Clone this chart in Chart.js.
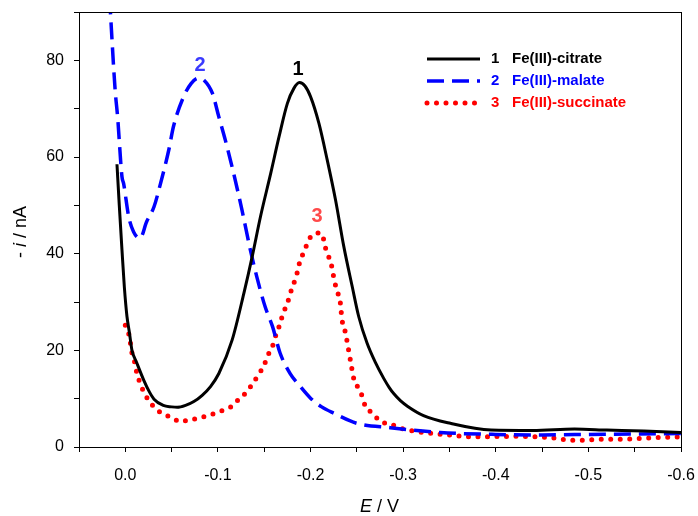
<!DOCTYPE html>
<html>
<head>
<meta charset="utf-8">
<script src="https://cdn.jsdelivr.net/npm/chart.js@4/dist/chart.umd.min.js"></script>
<style>
  html, body { margin: 0; padding: 0; background: #fff; }
  canvas { display: block; }
</style>
</head>
<body>
<canvas id="c" width="698" height="516"></canvas>
<script>
// E / V values (x) and -i / nA values (y)
var citrateE = [0.009, 0.0065, 0.0036, 0.001, -0.0018, -0.0045, -0.0072, -0.012, -0.02, -0.026, -0.031, -0.041, -0.05, -0.056, -0.065, -0.074, -0.083, -0.092, -0.101, -0.1153, -0.128, -0.137, -0.146, -0.157, -0.166, -0.175, -0.182, -0.188, -0.194, -0.2, -0.209, -0.218, -0.227, -0.236, -0.245, -0.252, -0.261, -0.27, -0.279, -0.285, -0.29, -0.297, -0.305, -0.322, -0.351, -0.395, -0.44, -0.485, -0.52, -0.56, -0.6]
var citrateI = [58.5, 50, 40.8, 33, 27, 23.6, 20, 17.6, 13.8, 11.4, 9.9, 8.6, 8.3, 8.2, 8.6, 9.4, 10.7, 12.5, 15.2, 22.1, 31.8, 39.4, 47.7, 56.6, 64.2, 71.1, 74.2, 75.4, 74.7, 72.5, 67, 59.4, 51.1, 41.4, 33.2, 27, 21.5, 17.5, 14.2, 12.3, 11, 9.6, 8.4, 6.5, 4.9, 3.5, 3.4, 3.7, 3.5, 3.3, 3.0]

var malateE = [0.017, 0.011, 0.0083, 0.0036, 0.0018, -0.0036, -0.009, -0.016, -0.023, -0.031, -0.038, -0.047, -0.052, -0.063, -0.071, -0.079, -0.085, -0.094, -0.101, -0.108, -0.117, -0.126, -0.135, -0.142, -0.151, -0.159, -0.167, -0.178, -0.189, -0.2, -0.212, -0.225, -0.25, -0.286, -0.34, -0.4, -0.45, -0.5, -0.55, -0.6]
var malateI = [93, 73.9, 68.3, 55.9, 54.5, 47.7, 44.5, 43.2, 46.6, 49.7, 54.5, 61.5, 66.3, 72.5, 75.2, 76.3, 75.9, 73.2, 68.3, 63.5, 56.6, 49, 40.8, 35.2, 29, 24.9, 19.5, 15.2, 12.5, 10.1, 8.3, 7, 4.9, 4.0, 3.0, 2.6, 2.5, 2.6, 2.7, 2.8]

var succinateE = [0, -0.0036, -0.0054, -0.007, -0.01, -0.012, -0.015, -0.019, -0.025, -0.032, -0.041, -0.05, -0.06, -0.0695, -0.078, -0.087, -0.097, -0.104, -0.114, -0.1225, -0.131, -0.138, -0.144, -0.15, -0.154, -0.159, -0.162, -0.166, -0.169, -0.173, -0.177, -0.18, -0.184, -0.189, -0.194, -0.197, -0.204, -0.209, -0.213, -0.215, -0.218, -0.222, -0.226, -0.229, -0.232, -0.234, -0.237, -0.239, -0.243, -0.247, -0.252, -0.256, -0.259, -0.267, -0.276, -0.286, -0.295, -0.315, -0.348, -0.377, -0.42, -0.46, -0.481, -0.499, -0.51, -0.539, -0.557, -0.6]
var succinateI = [25.2, 23.5, 21.6, 19.6, 17.6, 15.7, 13.7, 11.8, 9.7, 8.1, 6.8, 6.1, 5.2, 5.7, 5.9, 6.4, 7, 7.5, 8.3, 9.9, 11.4, 13.3, 15, 17, 19, 20.9, 22.8, 24.9, 26.8, 28.9, 30.9, 33, 34.9, 38.7, 40.8, 42.5, 44.1, 44.3, 43.9, 42, 40.1, 38.1, 34.2, 32.1, 30.1, 26.3, 24.2, 22.3, 18, 13.9, 12.1, 10.4, 8.5, 7, 5.2, 4.8, 4, 3.2, 2.5, 2.1, 2.2, 1.9, 1.4, 1.4, 1.6, 1.6, 1.8, 2.1]

var seriesNames = ["Fe(III)-citrate", "Fe(III)-malate", "Fe(III)-succinate"]
var seriesNums = ["1", "2", "3"]

var FONT = '"Liberation Sans", Arial, sans-serif'

function pts(xs, ys) {
  return xs.map(function(x, i) { return {x: x, y: ys[i]} })
}

// titles, legend, peak numbers and the box round the plot
var decor = {
  id: 'decor',
  afterDraw: function(chart) {
    var ctx = chart.ctx
    var a = chart.chartArea
    ctx.save()
    ctx.strokeStyle = '#000'
    ctx.lineWidth = 1
    ctx.strokeRect(a.left + 0.5, a.top + 0.5, a.right - a.left, a.bottom - a.top)

    // x title: E / V
    ctx.fillStyle = '#000'
    ctx.textBaseline = 'middle'
    ctx.textAlign = 'left'
    var x0 = 360, y0 = 507
    ctx.font = 'italic 18px ' + FONT
    ctx.fillText('E', x0, y0)
    var w = ctx.measureText('E').width
    ctx.font = '18px ' + FONT
    ctx.fillText(' / V', x0 + w, y0)

    // y title: - i / nA
    ctx.save()
    ctx.translate(21, 258)
    ctx.rotate(-Math.PI / 2)
    ctx.font = '18px ' + FONT
    ctx.fillText('- ', 0, 0)
    var w1 = ctx.measureText('- ').width
    ctx.font = 'italic 18px ' + FONT
    ctx.fillText('i', w1, 0)
    var w2 = ctx.measureText('i').width
    ctx.font = '18px ' + FONT
    ctx.fillText(' / nA', w1 + w2, 0)
    ctx.restore()

    // legend
    var rows = [59, 81, 103]
    chart.data.datasets.forEach(function(ds, i) {
      var y = rows[i]
      ctx.save()
      ctx.strokeStyle = ds.borderColor
      ctx.lineWidth = ds.borderWidth
      ctx.lineCap = ds.borderCapStyle || 'butt'
      ctx.setLineDash(ds.borderDash || [])
      ctx.beginPath()
      ctx.moveTo(427, y)
      ctx.lineTo(480, y)
      ctx.stroke()
      ctx.restore()
      ctx.fillStyle = ds.borderColor
      ctx.font = 'bold 15px ' + FONT
      ctx.fillText(seriesNums[i], 491, y)
      ctx.fillText(seriesNames[i], 512, y)
    })

    // peak numbers
    ctx.textAlign = 'center'
    ctx.font = 'bold 20px ' + FONT
    ctx.fillStyle = '#000'
    ctx.fillText('1', 298, 69)
    ctx.fillStyle = '#3a3aff'
    ctx.fillText('2', 200, 65)
    ctx.fillStyle = '#ff4a4a'
    ctx.fillText('3', 317, 216)
    ctx.restore()
  }
}

new Chart(document.getElementById('c'), {
  type: 'line',
  data: {
    datasets: [
      {
        data: pts(citrateE, citrateI),
        borderColor: '#000000',
        borderWidth: 3,
        pointRadius: 0,
        cubicInterpolationMode: 'monotone'
      },
      {
        data: pts(malateE, malateI),
        borderColor: '#0000ff',
        borderWidth: 3.5,
        borderDash: [17, 8],
        pointRadius: 0,
        cubicInterpolationMode: 'monotone'
      },
      {
        data: pts(succinateE, succinateI),
        borderColor: '#ff0000',
        borderWidth: 5,
        borderDash: [0, 9.5],
        borderCapStyle: 'round',
        pointRadius: 0,
        cubicInterpolationMode: 'monotone'
      }
    ]
  },
  options: {
    responsive: false,
    animation: false,
    devicePixelRatio: 1,
    layout: { padding: { top: 12, right: 17, left: 0, bottom: 0 } },
    plugins: { legend: { display: false }, tooltip: { enabled: false } },
    scales: {
      x: {
        type: 'linear',
        reverse: true,
        min: -0.6,
        max: 0.05,
        afterFit: function(s) {
          s.height = 69
          s.paddingLeft = 0
          s.paddingRight = 0
        },
        border: { display: true, color: '#000', width: 1 },
        grid: { drawOnChartArea: false, drawTicks: true, tickLength: 5, color: '#000' },
        ticks: {
          stepSize: 0.05,
          autoSkip: false,
          maxRotation: 0,
          padding: 14,
          color: '#000',
          font: { family: FONT, size: 16 },
          callback: function(v) {
            if (Math.abs(v * 10 - Math.round(v * 10)) > 1e-6) return ''
            if (Math.abs(v) < 1e-9) return '0.0'
            return v.toFixed(1)
          }
        }
      },
      y: {
        min: 0,
        max: 90,
        afterFit: function(s) {
          s.width = 79
          s.paddingTop = 0
          s.paddingBottom = 0
        },
        border: { display: true, color: '#000', width: 1 },
        grid: { drawOnChartArea: false, drawTicks: true, tickLength: 5, color: '#000' },
        ticks: {
          stepSize: 10,
          autoSkip: false,
          padding: 10,
          color: '#000',
          font: { family: FONT, size: 16 },
          callback: function(v) {
            return (Math.round(v) % 20 === 0 && v < 90) ? String(Math.round(v)) : ''
          }
        }
      }
    }
  },
  plugins: [decor]
})
</script>
</body>
</html>
